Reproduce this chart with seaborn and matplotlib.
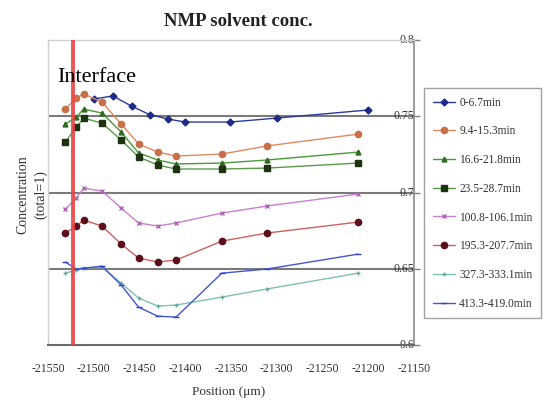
import matplotlib
matplotlib.use("Agg")
import matplotlib.pyplot as plt
import seaborn as sns
import pandas as pd

# ---- data ----
series_names = ["0-6.7min", "9.4-15.3min", "16.6-21.8min", "23.5-28.7min",
                "100.8-106.1min", "195.3-207.7min", "327.3-333.1min", "413.3-419.0min"]

pos_early = [-21500, -21479, -21458, -21439, -21419, -21400, -21351, -21300, -21200]
pos_main = [-21531, -21519, -21511, -21491, -21470, -21451, -21430, -21410, -21360, -21311, -21211]

conc_0 = [0.7613, 0.7633, 0.7564, 0.7511, 0.7482, 0.7462, 0.7462, 0.7488, 0.7541]
conc_9 = [0.7547, 0.7620, 0.7646, 0.7593, 0.7449, 0.7318, 0.7265, 0.7239, 0.7252, 0.7305, 0.7383]
conc_16 = [0.7449, 0.7495, 0.7547, 0.7521, 0.7396, 0.7259, 0.7213, 0.7187, 0.7193, 0.7213, 0.7265]
conc_23 = [0.7331, 0.7429, 0.7488, 0.7455, 0.7344, 0.7233, 0.7180, 0.7154, 0.7154, 0.7160, 0.7193]
conc_100 = [0.6891, 0.6964, 0.7029, 0.7009, 0.6898, 0.6800, 0.6780, 0.6800, 0.6865, 0.6911, 0.6990]
conc_195 = [0.6734, 0.6780, 0.6819, 0.6780, 0.6662, 0.6570, 0.6544, 0.6557, 0.6681, 0.6734, 0.6806]
conc_327 = [0.6471, 0.6491, 0.6504, 0.6511, 0.6406, 0.6308, 0.6255, 0.6262, 0.6314, 0.6367, 0.6471]
conc_413 = [0.6544, 0.6498, 0.6504, 0.6517, 0.6393, 0.6248, 0.6189, 0.6183, 0.6471, 0.6498, 0.6596]

interface_pos = -21523
x_ticks = [-21550, -21500, -21450, -21400, -21350, -21300, -21250, -21200, -21150]
y_ticks = [0.6, 0.65, 0.7, 0.75, 0.8]

all_pos = [pos_early] + [pos_main] * 7
all_conc = [conc_0, conc_9, conc_16, conc_23, conc_100, conc_195, conc_327, conc_413]

# ---- styles ----
styles = {
    "0-6.7min": dict(color="#2a3a9a", marker="D", ms=3.5, mfc="#1c2a8a", mec="#1c2a8a"),
    "9.4-15.3min": dict(color="#e08a60", marker="o", ms=4.5, mfc="#c87048", mec="#c87048"),
    "16.6-21.8min": dict(color="#4a9a3a", marker="^", ms=3.5, mfc="#2f6a20", mec="#2f6a20"),
    "23.5-28.7min": dict(color="#5a9a4a", marker="s", ms=5, mfc="#1d3312", mec="#1d3312"),
    "100.8-106.1min": dict(color="#c880d0", marker="x", ms=3, mfc="#c070c8", mec="#b060b8"),
    "195.3-207.7min": dict(color="#d06060", marker="o", ms=4.5, mfc="#5a0f1a", mec="#5a0f1a"),
    "327.3-333.1min": dict(color="#80c0b0", marker="+", ms=3.5, mfc="#70b8a8", mec="#60a898"),
    "413.3-419.0min": dict(color="#4455d0", marker="_", ms=4, mfc="#3344cc", mec="#3344cc"),
}

sns.set_style("white")
plt.rcParams["font.family"] = ["Liberation Serif", "DejaVu Serif"]

fig = plt.figure(figsize=(5.48, 4.0), dpi=100)
ax = fig.add_axes([48 / 548, 1 - 345 / 400, (414 - 48) / 548, (345 - 40) / 400])

for name, xs, ys in zip(series_names, all_pos, all_conc):
    st = styles[name]
    df = pd.DataFrame({"Position": xs, "Conc": ys})
    sns.lineplot(data=df, x="Position", y="Conc", ax=ax, label=name,
                 color=st["color"], marker=st["marker"], markersize=st["ms"],
                 markerfacecolor=st["mfc"], markeredgecolor=st["mec"],
                 markeredgewidth=1, linewidth=1, sort=False)

ax.axvline(interface_pos, color="#e84444", lw=2.8, alpha=0.9, zorder=5)

ax.set_xlim(x_ticks[0], x_ticks[-1])
ax.set_ylim(y_ticks[0], y_ticks[-1])
ax.set_xticks(x_ticks)
ax.set_xticklabels([str(v) for v in x_ticks])
ax.set_yticks(y_ticks)
ax.set_yticklabels(["0.6", "0.65", "0.7", "0.75", "0.8"])

ax.yaxis.tick_right()
ax.tick_params(axis="y", direction="inout", length=8, width=1, color="#808080",
               pad=-4, labelsize=8.5, labelcolor="#333333")
for lab in ax.get_yticklabels():
    lab.set_horizontalalignment("right")
    lab.set_verticalalignment("center")
ax.tick_params(axis="x", direction="in", length=5, width=1, color="#999999",
               pad=13, labelsize=8.5, labelcolor="#333333")

ax.grid(axis="y", color="#7a7a7a", lw=1.5)
gl = ax.get_ygridlines()
gl[0].set_visible(False)
gl[-1].set_visible(False)
ax.set_axisbelow(True)

for side, col, lw in [("left", "#d0d0d0", 1.0), ("top", "#d0d0d0", 1.0),
                      ("right", "#8a8a8a", 1.2), ("bottom", "#6a6a6a", 1.5)]:
    ax.spines[side].set_visible(True)
    ax.spines[side].set_color(col)
    ax.spines[side].set_linewidth(lw)

ax.set_xlabel("")
ax.set_ylabel("")

fig.text(238 / 548, 1 - 22 / 400, "NMP solvent conc.", ha="center", va="center",
         fontsize=13.5, fontweight="bold", color="#222222")
fig.text(229 / 548, 1 - 392 / 400, "Position (μm)", ha="center", va="center",
         fontsize=9.5, color="#333333")
fig.text(32 / 548, 1 - 195 / 400, "Concentration\n(total=1)", ha="center", va="center",
         rotation=90, fontsize=10, linespacing=1.5, color="#333333")
fig.text(57 / 548, 1 - 82 / 400, "Interface", ha="left", va="baseline",
         fontsize=16, color="black")

leg = ax.legend(loc="upper left", bbox_to_anchor=(424 / 548, 1 - 88 / 400),
                bbox_transform=fig.transFigure, borderaxespad=0, fontsize=8.3,
                labelspacing=1.45, handlelength=1.9, handletextpad=0.4,
                borderpad=0.75, frameon=True, fancybox=False)
leg.get_frame().set_edgecolor("#8a8a8a")
leg.get_frame().set_linewidth(1)
for t in leg.get_texts():
    t.set_color("#333333")

fig.savefig("out.png", dpi=100)
